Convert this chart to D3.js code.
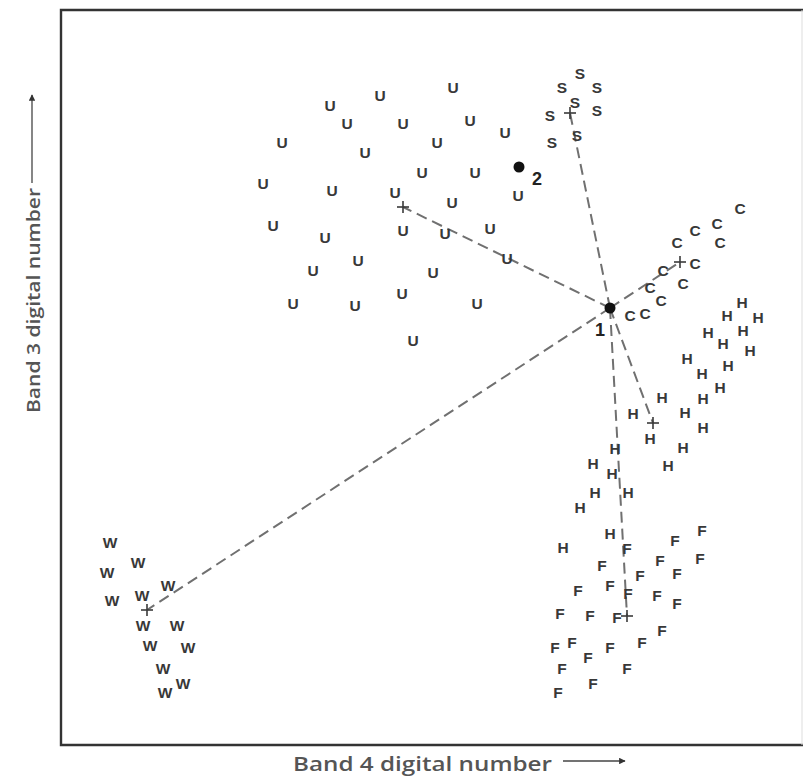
<!DOCTYPE html>
<html>
<head>
<meta charset="utf-8">
<script src="https://cdn.jsdelivr.net/npm/d3@7"></script>
<style>
  body { margin: 0; background: #fff; }
</style>
</head>
<body>
<svg id="chart" width="804" height="779"></svg>
<script>
// Training samples per land-cover class, in (band 4, band 3) digital numbers
const urbanPts = [
  [82.6,131.6],[68,130],[58,128],[61.4,124.4],[72.6,124.4],[86,125],[93,122.6],
  [48.4,120.6],[79.4,120.6],[65,118.6],[76.4,114.6],[87,114.6],[44.6,112.4],
  [58.4,111],[71,110.6],[82.4,108.6],[95.6,110],[46.6,104],[57,101.6],[72.6,103],
  [81,102.4],[90,103.4],[63.6,97],[54.6,95],[78.6,94.6],[93.4,97.4],[72.4,90.4],
  [50.6,88.4],[63,88],[87.4,88.4],[74.6,81]
];
const sandPts = [
  [108,134.4],[104.4,131.6],[111.4,131.6],[107,128.6],[111.4,127],[102,126],
  [102.4,120.6],[107.4,122]
];
const cornPts = [
  [140,107.4],[135.4,104.4],[131,103],[127.4,100.6],[136,100.6],[124.6,95],
  [131,96.4],[128.6,92.4],[122,91.6],[124.2,89],[118,86],[121,86.4]
];
const hayPts = [
  [140.4,88.6],[137.4,86],[143.6,85.6],[140.6,83],[133.6,82.6],[136.6,80.4],
  [142,79],[129.4,77.4],[137.6,76],[132.4,74.4],[136,71.6],[132.6,69.4],
  [124.4,69.6],[129,66.6],[118.6,66.4],[132.6,63.6],[122,61.4],[128.6,59.6],
  [125.6,56],[115,59.4],[110.6,56.4],[114.4,54.4],[117.6,50.6],[111,50.6],
  [108,47.6],[114,42.4],[104.6,39.6]
];
const forestPts = [
  [132.4,43],[127,41],[117.4,39.4],[132,37.4],[124,37],[112.4,36],[120,34],
  [127.4,34.4],[114,32],[107.6,31],[117.6,30.4],[123.4,30],[127.4,28.4],
  [104,26.4],[110,26],[115.4,25.6],[124.4,23],[120.4,20.6],[114,19.6],
  [103,19.6],[106.4,20.6],[109.6,17.6],[104.4,15.4],[117.4,15.4],[110.6,12.4],
  [103.6,10.6]
];
const waterPts = [
  [14,40.6],[19.6,36.6],[13.4,34.6],[25.6,32],[20.4,30],[14.4,29],[20.6,24],
  [27.4,24],[22,20],[29.6,19.6],[24.6,15.4],[28.6,12.4],[25,10.6]
];

const classCodes = ["U", "S", "C", "H", "F", "W"];
const classSamples = [urbanPts, sandPts, cornPts, hayPts, forestPts, waterPts];
// Class mean vectors (the "+" marks)
const classMeans = [
  [72.6,107.6],[106,126.4],[128,96.6],[122.6,64.4],[117.4,25.8],[21.4,27]
];
// Unknown pixels to classify
const pixelLabels = ["1", "2"];
const pixelValues = [[114,87.4],[95.8,115.6]];

const xTitle = "Band 4 digital number";
const yTitle = "Band 3 digital number";

const svg = d3.select("#chart");

const x = d3.scaleLinear().domain([4.2, 152.6]).range([61, 803]);
const y = d3.scaleLinear().domain([0, 147]).range([745, 10]);

// Distance lines from pixel 1 to each class mean
const p1 = pixelValues[0];
svg.append("g").selectAll("line")
  .data(classMeans)
  .join("line")
  .attr("x1", x(p1[0])).attr("y1", y(p1[1]))
  .attr("x2", d => x(d[0])).attr("y2", d => y(d[1]))
  .attr("stroke", "#707070")
  .attr("stroke-width", 2)
  .attr("stroke-dasharray", "11,6");

// Sample letters
const samples = classSamples.flatMap((pts, i) => pts.map(p => ({ code: classCodes[i], v: p })));
svg.append("g").selectAll("text")
  .data(samples)
  .join("text")
  .attr("x", d => x(d.v[0]))
  .attr("y", d => y(d.v[1]))
  .attr("text-anchor", "middle")
  .attr("dominant-baseline", "central")
  .attr("font-family", "Liberation Sans, Arial, sans-serif")
  .attr("font-weight", "bold")
  .attr("font-size", 15.5)
  .attr("fill", "#383838")
  .text(d => d.code);

// Class means as crosses
const cross = 6;
const meansG = svg.append("g").attr("stroke", "#3a3a3a").attr("stroke-width", 1.6);
classMeans.forEach(m => {
  meansG.append("line")
    .attr("x1", x(m[0]) - cross).attr("x2", x(m[0]) + cross)
    .attr("y1", y(m[1])).attr("y2", y(m[1]));
  meansG.append("line")
    .attr("x1", x(m[0])).attr("x2", x(m[0]))
    .attr("y1", y(m[1]) - cross).attr("y2", y(m[1]) + cross);
});

// Unknown pixels
const labelOffsets = [[-10, 22], [18, 12]];
pixelValues.forEach((p, i) => {
  svg.append("circle")
    .attr("cx", x(p[0])).attr("cy", y(p[1]))
    .attr("r", 5.5)
    .attr("fill", "#111");
  svg.append("text")
    .attr("x", x(p[0]) + labelOffsets[i][0])
    .attr("y", y(p[1]) + labelOffsets[i][1])
    .attr("text-anchor", "middle")
    .attr("dominant-baseline", "central")
    .attr("font-family", "Liberation Sans, Arial, sans-serif")
    .attr("font-weight", "bold")
    .attr("font-size", 18)
    .attr("fill", "#222")
    .text(pixelLabels[i]);
});

// Plot frame
const [x0, x1] = x.range();
const [y0, y1] = y.range();
svg.append("path")
  .attr("d", `M${x1},${y1} L${x0},${y1} L${x0},${y0} L${x1},${y0}`)
  .attr("fill", "none")
  .attr("stroke", "#333")
  .attr("stroke-width", 2.4);
svg.append("line")
  .attr("x1", x1 - 1).attr("x2", x1 - 1)
  .attr("y1", y1).attr("y2", y0)
  .attr("stroke", "#ddd")
  .attr("stroke-width", 1);

// Arrow head marker
svg.append("defs").append("marker")
  .attr("id", "arrow")
  .attr("viewBox", "0 0 10 10")
  .attr("refX", 9).attr("refY", 5)
  .attr("markerWidth", 8).attr("markerHeight", 5)
  .attr("markerUnits", "strokeWidth")
  .attr("orient", "auto")
  .append("path")
  .attr("d", "M0,0 L10,5 L0,10 Z")
  .attr("fill", "#333");

// X axis title
svg.append("text")
  .attr("x", 293).attr("y", 771)
  .attr("font-family", "Open Sans, sans-serif")
  .attr("font-weight", 600)
  .attr("font-size", 20)
  .attr("textLength", 259)
  .attr("lengthAdjust", "spacingAndGlyphs")
  .attr("fill", "#555")
  .text(xTitle);
svg.append("line")
  .attr("x1", 563).attr("x2", 625)
  .attr("y1", 761).attr("y2", 761)
  .attr("stroke", "#444")
  .attr("stroke-width", 1.3)
  .attr("marker-end", "url(#arrow)");

// Y axis title
svg.append("text")
  .attr("transform", "translate(40,413) rotate(-90)")
  .attr("font-family", "Open Sans, sans-serif")
  .attr("font-weight", 600)
  .attr("font-size", 18)
  .attr("textLength", 225)
  .attr("lengthAdjust", "spacingAndGlyphs")
  .attr("fill", "#555")
  .text(yTitle);
svg.append("line")
  .attr("x1", 32).attr("x2", 32)
  .attr("y1", 183).attr("y2", 95)
  .attr("stroke", "#444")
  .attr("stroke-width", 1.3)
  .attr("marker-end", "url(#arrow)");
</script>
</body>
</html>
